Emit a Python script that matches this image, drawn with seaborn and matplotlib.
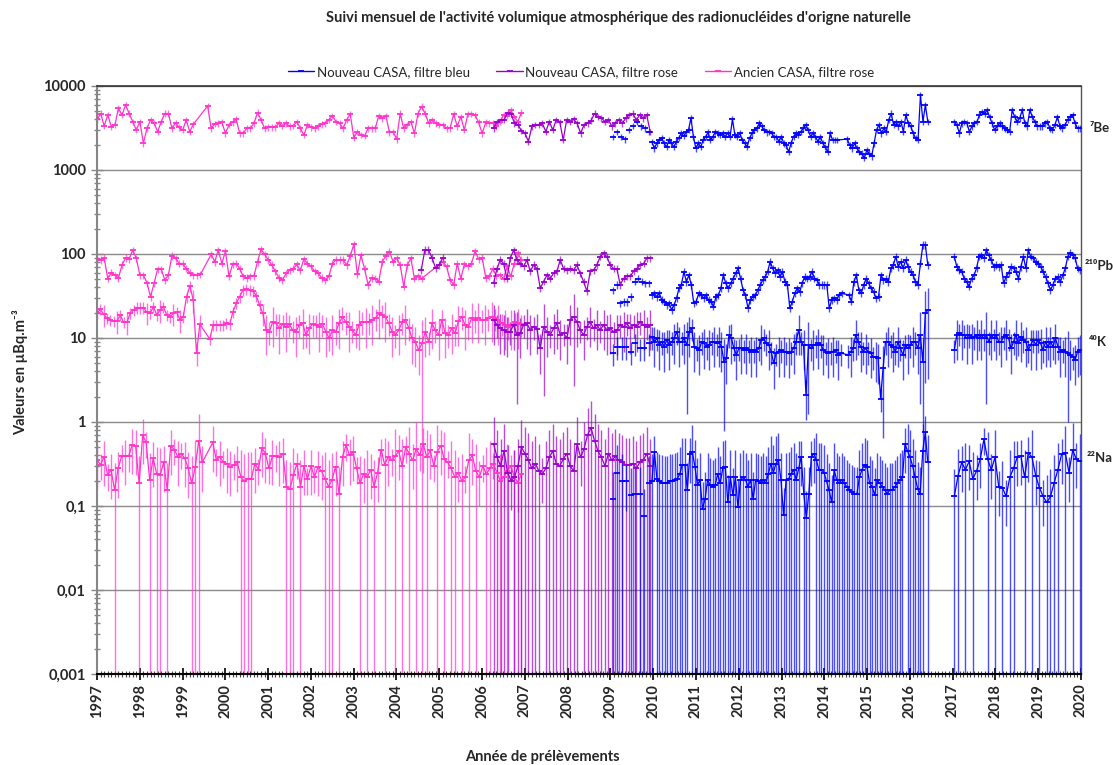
import numpy as np
import pandas as pd
import matplotlib
matplotlib.use("Agg")
import matplotlib.pyplot as plt
from matplotlib.lines import Line2D
from matplotlib.ticker import MultipleLocator, LogLocator, NullFormatter
from matplotlib.transforms import blended_transform_factory
import seaborn as sns

sns.set_theme(style="white")
plt.rcParams["font.family"] = ["Lato", "DejaVu Sans"]

# ---------------- sampling periods (decimal years: first, last sample) ----------------
periode_ancien = (1997.0, 2006.92)
periode_rose_2004 = (2004.58, 2005.08)
periode_rose = (2006.27, 2009.93)
periode_bleu_debut = (2009.06, 2009.90)
periode_bleu_1 = (2009.97, 2016.42)
periode_bleu_2 = (2017.04, 2019.98)

# ---------------- 7Be (µBq/m3) ----------------
be7_ancien = [4000, 4700, 3340, 4520, 3270, 3430, 5430, 4520, 5940, 4700, 3760, 2990, 3760, 2080, 3130, 3930,
              3630, 2860, 3760, 4700, 4700, 3130, 3630, 3220, 2990, 3930, 2860, 3500, None, None, None,
              5780, 3130, 3530, 3600, 3680, 2740, 3450, 3680, 4010, 2740, 2740, 3130, 3130, 3600, 4820, 3950,
              3130, 3230, 3230, 3230, 3600, 3340, 3600, 3300, 3340, 3760, 3130, 2610, 3450, 3230, 3130, 3300,
              3500, 3600, 3950, 4400, 3760, 3600, 3130, 3950, 4640, 2430, 2860, 2610, 2540, 3130, 3130, 3130,
              4400, 4150, 4400, 2800, 2860, 2330, 4700, 3130, 3450, 3760, 2740, 4700, 5680, 4700, 3600, 3950,
              3600, 3450, 3450, 3130, 3130, 4640, 3300, 4300, 3000, 4640, 4640, 4520, 3680, 2740, 3680, 3600,
              3600, 3300, 3760, 4520, 4400, 5170, 4300, 3760, 4820]
be7_rose = [3130, 3760, 3950, 3950, 4820, 4640, 3600, 3450, 2930, 2740, 2180, 3300, 3450, 3450, 3600, 2860,
            3760, 3000, 3950, 3760, 2275, 3950, 3760, 4000, 3600, 2740, 3450, 3600, 3880, 4700, 4300, 4150,
            3760, 3950, 3300, 3600, 3950, 3600, 4150, 4520, 4700, 3950, 4520, 4150, 4520, 2860]
be7_bleu_debut = [2490, 2860, 2490, 2330, 3000, 3340, 3760, 3300, 3130, 2860]
be7_bleu_1 = [2170, 1810, 2080, 2275, 2400, 2080, 1880, 2275, 2080, 1880, 2180, 2400, 2740, 2540, 2800, 3000,
              4150, 2490, 1810, 2080, 1880, 2275, 2490, 2800, 2275, 2490, 2860, 2740, 2610, 2740, 2490, 2740,
              2490, 4000, 2610, 2490, 2740, 2275, 2080, 1880, 2400, 2740, 3000, 3130, 3600, 3300, 3000, 2800,
              2860, 2740, 2490, 2490, 2180, 2490, 2080, 1980, 1640, 2080, 2490, 2740, 2610, 2860, 3130, 3450,
              3000, 2490, 2740, 2490, 2180, 2490, 2080, 1880, 1640, 2740, 2275, 2275, 2275, None, None, None,
              2330, 1980, 1810, 2080, 1810, 1640, 1570, 1390, 1720, 1570, 1450, 2080, 3000, 3450, 2740, 3130,
              2860, 3950, 4700, 3450, 3760, 3300, 3760, 2860, 4520, 3600, 3300, 2740, 2400, 2275, 7810, 3760,
              5940, 3760]
be7_bleu_2 = [3760, 3450, 2740, 3600, 3760, 3600, 2860, 3300, 3600, 3760, 4520, 4920, 4640, 5170, 4300, 3600,
              3000, 3300, 3600, 3300, 3130, 3000, 2860, 5170, 4300, 3760, 4150, 5170, 3600, 3300, 5170, 4300,
              3760, 3300, 3300, 3300, 3600, 3760, 3130, 3000, 3450, 4300, 3300, 3130, 3450, 3950, 4300, 4520,
              3600, 3130, 3130]

# ---------------- 210Pb ----------------
pb210_ancien = [87, 85, 90, 51, 60, 56, 52, 74, 90, 87, 111, 89, 56, 56, 45, 31, 45, 66, 66, 49, 56, 95, 89, 77,
                77, 67, 60, 56, 56, 57, None, None,
                99, 81, 111, 77, 108, 54, 75, 77, 67, 54, 52, 54, 55, 81, 114, 99, 85, 74, 62, 52, 49, 59, 64,
                67, 75, 64, 87, 77, 71, 62, 59, 52, 49, 54, 77, 85, 85, 85, 74, 95, 130, 57, 97, 67, 43, 52, 51,
                47, 81, 95, 107, 81, 89, 74, 41, 74, 89, 51, 54, 51, None, None, None, None, None,
                81, 71, 49, 43, 77, 51, 75, 71, 77, 108, 87, 90, 52, 54, 67, 54, 56, 51, 71, 54, 77, 102, 85]
pb210_rose_2004 = [65, 112, 112, 90, 68, 74, 90]
pb210_rose = [45, 67, 85, 77, 51, 89, 111, 85, 77, 71, 85, 62, 74, 67, 39, 47, 56, 51, 59, 62, 85, 67, 64, 67,
              64, 74, 59, 47, 36, 62, 64, 74, 93, 102, 93, 74, 67, 67, 43, 51, 54, 54, 62, 67, 74, 77, 89, 89]
pb210_bleu_debut = [37, 43, 26, 27, 27, 31, 47, 51, 47, 45, 45]
pb210_bleu_1 = [32.5, 34, 31, 34, 28.4, 27.1, 24.7, 25.9, 21.6, 24.7, 29.8, 39, 43, 61.6, 46.8, 56, 43, 25.9,
                27.1, 34, 32.5, 29.8, 32.5, 28.4, 27.1, 23.6, 31, 32.5, 39, 56, 44.8, 39, 44.8, 51, 58.9, 67.5,
                51, 37.2, 32.5, 22.6, 28.4, 31, 32.5, 37.2, 43, 49, 53.7, 61.6, 81, 67.5, 58.9, 64.4, 53.7, 61.6,
                46.8, 43, 22.6, 27.1, 34, 39, 35.6, 44.8, 53.7, 51, 53.7, 61.6, 51, 49, 43, 43, 43, 43, 22.6,
                28.4, 29.8, 28.4, 32.5, 34, None, None, 32.5, 27.1, 46.8, 56, 37.2, 34, 43, 51, 44.8, 39, 35.6,
                29.8, 31, 56, 49, 51, 46.8, 67.5, 74, 93, 70.6, 81, 67.5, 85, 70.6, 61.6, 56, 46.8, 43, 77, 128,
                128, 74]
pb210_bleu_2 = [93, 70.6, 64.4, 61.6, 51, 46.8, 41, 51, 56, 67.5, 93, 96, 89, 111, 96, 85, 70.6, 74, 70.6, 74,
                44.8, 53.7, 58.9, 70.6, 67.5, 61.6, 51, 70.6, 93, 67.5, 111, 93, 89, 81, 77, 70.6, 61.6, 53.7,
                44.8, 37.2, 43, 51, 53.7, 46.8, 56, 67.5, 93, 104, 96, 89, 67.5, 64.4]

# ---------------- 40K ----------------
k40_ancien = [19.6, 22, 19.1, 17.2, 16.4, 15.9, 15.9, 18.8, 15.3, 15.3, 19.6, 21.5, 23, 23, 23, 20.2, 19.6, 23.6,
              18.8, 21.5, 23.6, 18.8, 17.9, 19.6, 20.2, 16.4, 17.9, 31, 42, 28.3, 6.6, 14.6, None, None,
              9.7, 14.3, 14.3, 14.3, 14.3, 14.9, 14.6, 20.6, 25.9, 31, 37.2, 38.3, 37.2, 36.2, 31.9, 24.7, 19.6,
              12.4, 11.9, 15.6, 14.9, 13, 14.6, 13.6, 14.6, 12.4, 11.9, 14.3, 14.9, 10.9, 13, 14.6, 14.3, 13.6,
              14.6, 11.9, 9.9, 12.4, 11.9, 14.9, 17.9, 15.6, 13.6, 12.4, 10.9, 14.3, 15.6, 15.3, 15.3, 16.4,
              17.2, 19.6, 18.8, 17.9, 14.9, 11.9, 10.9, 12.4, 15.3, 16.4, 13.3, 9.9, 9.0, 7.2, 8.6, 11.9, 9.0,
              14.9, 12.4, 10.9, 16.4, 11.4, 10.9, 13, 11.4, 15.9, 17.9, 14.3, 13.6, 17.2, 16.4, 17.2, 16.4,
              16.4, 17.2, 17.9, 17.2, 16.4, 14.9, 14.3, 13.6, 14.3, 15.3, 14.9, 14.6]
k40_rose = [16.4, 14.3, 13, 12.4, 11.9, 11.9, 14.3, 10.9, 11.4, 14.3, 14.9, 12.4, 13.6, 12.8, 7.5, 13.6, 11.9,
            10.9, 13, 14.9, 10.9, 11.4, 9.9, 16.4, 17.9, 15.6, 12.4, 10.9, 13.6, 15.6, 13, 14.3, 12.4, 14.3,
            12.4, 13, 11.9, 12.4, 14.3, 13.6, 14.9, 13, 14.3, 13.6, 15.6, 14.3, 13.6, 14.3]
k40_bleu_debut = [6.6, 7.9, 7.9, 7.9, 6.9, 8.6, 7.5, 7.5, 8.6]
k40_bleu_1 = [10.4, 9.0, 9.9, 8.3, 9.0, 7.9, 9.5, 8.3, 9.0, 9.9, 11.9, 9.0, 9.0, 9.9, 8.3, 11.9, 13, 7.9, 7.5,
              7.2, 9.0, 8.6, 7.9, 8.3, 9.0, 9.0, 8.6, 9.0, 7.9, 5.2, 5.7, 10.9, 9.9, 7.5, 6.3, 7.5, 7.5, 7.2,
              7.5, 7.2, 6.9, 7.2, 6.9, 7.5, 9.5, 9.9, 8.6, 8.3, 6.9, 5.0, 6.6, 6.9, 7.2, 6.9, 6.9, 6.6, 6.9,
              7.5, 9.0, 12.4, 9.0, 8.3, 2.1, 8.3, 7.5, 8.3, 8.3, 8.6, 8.3, 7.2, 6.9, 6.6, 6.9, 6.9, 7.2, 6.3,
              6.6, None, None, 6.3, 6.9, 7.5, 10.9, 9.0, 7.9, 6.9, 7.5, 6.9, 6.6, 6.0, 6.0, 5.7, 1.9, 4.35,
              9.0, 9.0, 8.3, 7.9, 6.9, 9.0, 7.5, 6.3, 8.3, 7.5, 8.3, 9.0, 9.0, 7.5, 10.9, 5.2, 19.6, 21.5]
k40_bleu_2 = [7.2, 10.9, 11.4, 10.9, 10.9, 9.9, 10.9, 9.9, 10.4, 10.9, 9.9, 10.9, 9.9, 10.9, 9.0, 10.9, 9.9,
              10.9, 9.0, 9.0, 10.4, 10.9, 9.9, 7.5, 9.0, 10.9, 8.6, 10.4, 9.5, 9.0, 7.2, 8.3, 9.5, 8.3, 9.5,
              8.6, 7.2, 9.0, 7.9, 9.0, 7.9, 9.9, 7.9, 6.9, 7.2, 6.9, 6.6, 6.3, 6.0, 5.5, 6.9, 7.2]

# ---------------- 22Na ----------------
na22_ancien = [0.353, 0.31, 0.386, 0.234, 0.268, 0.155, 0.28, 0.39, 0.39, 0.39, 0.53, 0.52, 0.186, 0.70, 0.57,
               0.204, 0.37, 0.24, 0.234, 0.33, 0.155, 0.52, 0.47, 0.386, 0.42, 0.37, 0.28, 0.186, 0.29, 0.60,
               0.33, None, None,
               0.57, 0.353, 0.386, 0.33, 0.32, 0.29, 0.31, 0.33, 0.22, 0.196, 0.21, 0.21, 0.32, 0.27, 0.49,
               0.42, 0.28, 0.39, 0.39, 0.38, 0.42, 0.17, 0.16, 0.234, 0.32, 0.17, 0.30, 0.21, 0.30, 0.22,
               0.294, 0.26, 0.21, 0.17, 0.204, 0.294, 0.14, 0.386, 0.53, 0.40, 0.44, 0.28, 0.186, 0.24, 0.22,
               0.27, 0.17, 0.25, 0.47, 0.31, 0.386, 0.353,
               0.39, 0.45, 0.30, 0.50, 0.42, 0.35, 0.48, 0.40, 0.55, 0.38, 0.46, 0.30, 0.44, 0.52, 0.36, 0.33,
               0.28, 0.22, 0.25, 0.20, 0.22, 0.35, 0.40, 0.26, 0.22, 0.30, 0.24, 0.28, 0.32, 0.25, 0.20, 0.22,
               0.26, 0.30, 0.22, 0.19, 0.24]
na22_rose = [0.55, 0.38, 0.30, 0.45, 0.25, 0.20, 0.22, 0.30, 0.50, 0.42, 0.35, 0.28, 0.32, 0.26, 0.24, 0.28,
             0.38, 0.45, 0.32, 0.30, 0.36, 0.42, 0.30, 0.26, 0.55, 0.38, 0.48, 0.70, 0.85, 0.60, 0.45, 0.38,
             0.30, 0.42, 0.35, 0.39, 0.35, 0.33, 0.31, 0.31, 0.32, 0.28, 0.33, 0.35, 0.42, 0.30]
na22_bleu_debut = [0.12, 0.25, 0.20, 0.196, 0.135, 0.14, 0.14, 0.075, 0.186]
na22_bleu_1 = [0.196, 0.44, 0.21, 0.196, 0.19, 0.186, 0.186, 0.196, 0.196, 0.204, 0.21, 0.24, 0.31, 0.31, 0.155,
               0.42, 0.44, 0.294, 0.178, 0.204, 0.093, 0.12, 0.204, 0.178, 0.17, 0.178, 0.24, 0.186, 0.28,
               0.294, 0.11, 0.22, 0.135, 0.22, 0.096, 0.204, 0.22, 0.204, 0.17, 0.204, 0.12, 0.204, 0.196,
               0.186, 0.204, 0.186, 0.24, 0.32, 0.25, 0.32, 0.35, 0.204, 0.078, 0.204, 0.21, 0.24, 0.27, 0.204,
               0.28, 0.386, 0.14, 0.072, 0.14, 0.386, 0.42, 0.35, 0.27, 0.27, 0.25, 0.196, 0.155, 0.11, 0.27,
               0.204, 0.186, 0.204, 0.186, 0.17, 0.155, 0.147, 0.14, 0.14, 0.22, 0.27, 0.31, 0.294, 0.186, 0.17,
               0.135, 0.204, 0.186, 0.17, 0.155, 0.14, 0.155, 0.155, 0.17, 0.186, 0.204, 0.22, 0.55, 0.45,
               0.38, 0.30, 0.22, 0.16, 0.14, 0.45, 0.75, 0.33]
na22_bleu_2 = [0.13, 0.23, 0.33, 0.27, 0.34, 0.21, 0.26, 0.36, 0.62, 0.36, 0.27, 0.38, 0.17, 0.165, 0.13, 0.22,
               0.28, 0.38, 0.39, 0.22, 0.43, 0.38, 0.23, 0.165, 0.13, 0.11, 0.13, 0.19, 0.27, 0.41, 0.43, 0.25,
               0.46, 0.36, 0.34]

# ---------------- uncertainty class per point ('9' = lower bound below detection) ----------------
k40_ancien_inc = ("0010001001" "0000010001" "0001010001" "11" "00"
                  "0000000000" "0000001212" "1212112121" "2112121212" "1121121212"
                  "1212121212" "1222921212" "1212121212" "1212121212" "12121")
k40_rose_inc = "2122212321" "2212232122" "2122321212" "1212221212" "12121212"
k40_bleu_debut_inc = "111111111"
k40_bleu_1_inc = ("1212121212" "1212321212" "1212121223" "2121212121" "2121211212" "1212121212"
                  "1223121212" "1212121001" "2121212121" "2213121212" "1212121233" "33")
k40_bleu_2_inc = "1212121212" "1213121212" "1212121212" "1212121212" "1212123212" "22"
na22_ancien_inc = ("1010191010" "1191091991" "9101011999" "1" "00"
                   "1010110199" "9910110101" "1999091010" "1199919101" "1091919109" "10"
                   "9190919019" "1091909919" "0919109901" "9190919")
na22_rose_inc = "9999919999" "9999199999" "9999919999" "9999999999" "999999"
na22_bleu_debut_inc = "999199999"
na22_bleu_1_inc = ("9199999999" "9999919999" "9999999999" "9999999999" "9999999999" "9999999991"
                   "9991199999" "9999999999" "9999999999" "9999999999" "1999999919")
na22_bleu_2_inc = "9919191109" "1919199119" "1919199991" "91919"

# relative uncertainty per class, per nuclide
incertitude = {
    "Be": {"0": 0.09},
    "Pb": {"0": 0.10},
    "K": {"0": 0.15, "1": 0.30, "2": 0.50, "3": 0.85},
    "Na": {"0": 0.35, "1": 0.55},
}
haut_si_limite = {"K": 0.9, "Na": 1.1}

couleurs = {"bleu": "#0000FF", "rose": "#9900CC", "ancien": "#FF33CC"}

couches = [
    # (nuclide, campaign, period, values, classes, connected)
    ("Be", "ancien", periode_ancien, be7_ancien, None, True),
    ("Pb", "ancien", periode_ancien, pb210_ancien, None, True),
    ("K", "ancien", periode_ancien, k40_ancien, k40_ancien_inc, True),
    ("Na", "ancien", periode_ancien, na22_ancien, na22_ancien_inc, True),
    ("Pb", "rose", periode_rose_2004, pb210_rose_2004, None, True),
    ("Be", "rose", periode_rose, be7_rose, None, True),
    ("Pb", "rose", periode_rose, pb210_rose, None, True),
    ("K", "rose", periode_rose, k40_rose, k40_rose_inc, True),
    ("Na", "rose", periode_rose, na22_rose, na22_rose_inc, True),
    ("Be", "bleu", periode_bleu_debut, be7_bleu_debut, None, False),
    ("Pb", "bleu", periode_bleu_debut, pb210_bleu_debut, None, False),
    ("K", "bleu", periode_bleu_debut, k40_bleu_debut, k40_bleu_debut_inc, False),
    ("Na", "bleu", periode_bleu_debut, na22_bleu_debut, na22_bleu_debut_inc, False),
    ("Be", "bleu", periode_bleu_1, be7_bleu_1, None, True),
    ("Pb", "bleu", periode_bleu_1, pb210_bleu_1, None, True),
    ("K", "bleu", periode_bleu_1, k40_bleu_1, k40_bleu_1_inc, True),
    ("Na", "bleu", periode_bleu_1, na22_bleu_1, na22_bleu_1_inc, True),
    ("Be", "bleu", periode_bleu_2, be7_bleu_2, None, True),
    ("Pb", "bleu", periode_bleu_2, pb210_bleu_2, None, True),
    ("K", "bleu", periode_bleu_2, k40_bleu_2, k40_bleu_2_inc, True),
    ("Na", "bleu", periode_bleu_2, na22_bleu_2, na22_bleu_2_inc, True),
]

fig = plt.figure(figsize=(11.13, 7.65), dpi=100)
ax = fig.add_axes([0.0872, 0.119, 0.884, 0.7686])
ax.set_yscale("log")

for nucl, camp, per, vals, inc, relie in couches:
    v = np.array(vals, dtype=float)
    n = len(v)
    x = np.linspace(per[0], per[1], n)
    ok = ~np.isnan(v)
    cls = list(((inc or "") + "0" * n)[:n])
    lo = np.empty(n)
    hi = np.empty(n)
    for i in range(n):
        c = cls[i]
        if c == "9":
            lo[i] = 1e-4
            hi[i] = v[i] * (1 + haut_si_limite[nucl])
        else:
            r = incertitude[nucl].get(c, incertitude[nucl]["0"])
            lo[i] = v[i] * (1 - r)
            hi[i] = v[i] * (1 + r)
    col = couleurs[camp]
    ax.errorbar(x[ok], v[ok], yerr=[v[ok] - lo[ok], hi[ok] - v[ok]], fmt="none",
                ecolor=col, elinewidth=1.0, alpha=0.7, zorder=2)
    df = pd.DataFrame({"annee": x[ok], "valeur": v[ok]})
    sns.lineplot(data=df, x="annee", y="valeur", ax=ax, color=col,
                 linewidth=0.9, linestyle="-" if relie else "",
                 marker="_", markersize=5, markeredgewidth=1.3, markeredgecolor=col,
                 estimator=None, sort=False, legend=False, zorder=3)

ax.set_xlim(1997, 2020)
ax.set_ylim(1e-3, 1e4)
ax.set_xlabel("")
ax.set_ylabel("")

yt = [1e-3, 1e-2, 1e-1, 1, 10, 100, 1000, 10000]
ax.set_yticks(yt)
ax.set_yticklabels(["0,001", "0,01", "0,1", "1", "10", "100", "1000", "10000"],
                   fontweight="bold", fontsize=10.5)
ax.yaxis.set_minor_locator(LogLocator(base=10, subs=np.arange(2, 10), numticks=20))
ax.yaxis.set_minor_formatter(NullFormatter())
annees = list(range(1997, 2021))
ax.set_xticks(annees)
ax.set_xticklabels([str(a) for a in annees], rotation=90, fontweight="bold", fontsize=10.5)
ax.xaxis.set_minor_locator(MultipleLocator(1 / 12))

ax.tick_params(axis="both", which="both", bottom=True, left=True, top=False, right=False)
ax.tick_params(axis="y", which="major", direction="inout", length=8, width=1, color="#868686", pad=4)
ax.tick_params(axis="y", which="minor", direction="inout", length=5, width=1, color="#868686")
ax.tick_params(axis="x", which="major", direction="inout", length=8, width=1.2, color="black", pad=3)
ax.tick_params(axis="x", which="minor", direction="inout", length=5, width=0.8, color="#444444")

ax.grid(False)
ax.yaxis.grid(True, which="major", color="#8a8a8a", linewidth=1.0)
ax.set_axisbelow(True)
for s, c, w in [("left", "#868686", 1.5), ("bottom", "#000000", 1.5), ("top", "#333333", 1.2), ("right", "#555555", 1.0)]:
    ax.spines[s].set_visible(True)
    ax.spines[s].set_color(c)
    ax.spines[s].set_linewidth(w)

# right-side nuclide labels
tr = blended_transform_factory(ax.transAxes, ax.transData)
for lab, yv, xo in [("⁷Be", 3160, 1.009), ("²¹⁰Pb", 72, 1.004), ("⁴⁰K", 9.0, 1.008), ("²²Na", 0.37, 1.006)]:
    ax.text(xo, yv, lab, transform=tr, fontweight="bold", fontsize=9.5, va="center", ha="left")

# titles
fig.text(0.556, 0.976, "Suivi mensuel de l'activité volumique atmosphérique des radionucléides d'origne naturelle",
         ha="center", va="center", fontweight="bold", fontsize=10.5)
fig.text(0.018, 0.513, "Valeurs en µBq.m⁻³", rotation=90, ha="center", va="center",
         fontweight="bold", fontsize=10.5)
fig.text(0.487, 0.011, "Année de prélèvements", ha="center", va="center", fontweight="bold", fontsize=10.5)

handles = [Line2D([], [], color=couleurs[k], lw=1, marker="_", markersize=5, markeredgewidth=1.3)
           for k in ["bleu", "rose", "ancien"]]
labels = ["Nouveau CASA, filtre bleu", "Nouveau CASA, filtre rose", "Ancien CASA, filtre rose"]
fig.legend(handles, labels, loc="center", bbox_to_anchor=(0.522, 0.906), ncol=3, frameon=False,
           fontsize=9.5, handlelength=2.0, columnspacing=2.0, handletextpad=0.2)

fig.savefig("out.png", dpi=100)
